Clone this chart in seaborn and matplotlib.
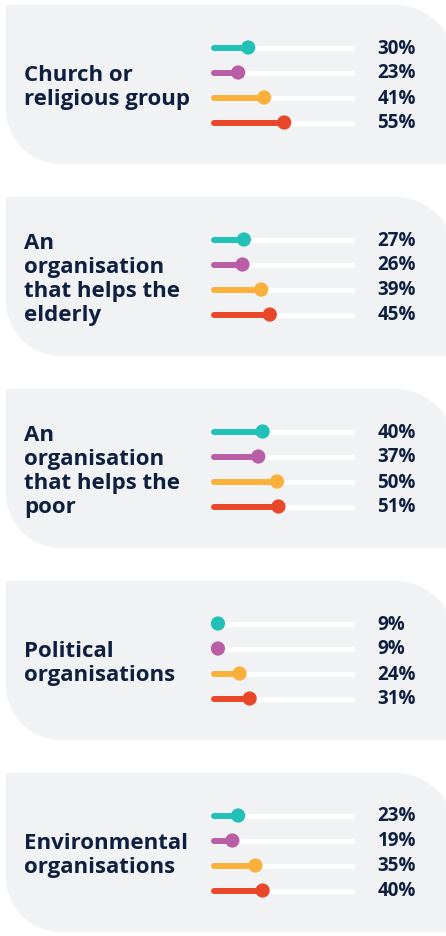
import numpy as np
import pandas as pd
import matplotlib
matplotlib.use("Agg")
import matplotlib.pyplot as plt
from matplotlib.path import Path
from matplotlib.patches import PathPatch
import seaborn as sns

# ---------------- data ----------------
categories = [
    "Church or\nreligious group",
    "An\norganisation\nthat helps the\nelderly",
    "An\norganisation\nthat helps the\npoor",
    "Political\norganisations",
    "Environmental\norganisations",
]
series = ["s1", "s2", "s3", "s4"]
values_church = [30, 23, 41, 55]
values_elderly = [27, 26, 39, 45]
values_poor = [40, 37, 50, 51]
values_political = [9, 9, 24, 31]
values_environment = [23, 19, 35, 40]
all_values = [values_church, values_elderly, values_poor, values_political, values_environment]

# ---------------- style ----------------
colors = ["#22c1b8", "#b95ea6", "#fbb03b", "#e9472a"]
panel_bg = "#f1f2f4"
text_color = "#0e1f3f"
W, H = 446, 937
sns.set_theme(style="white")
plt.rcParams["font.family"] = ["Open Sans", "DejaVu Sans"]

fig = plt.figure(figsize=(W / 100, H / 100), dpi=100)
fig.patch.set_facecolor("white")

# background axes in pixel coordinates for panels
bg = fig.add_axes([0, 0, 1, 1])
bg.set_xlim(0, W)
bg.set_ylim(H, 0)
bg.axis("off")

def panel_path(x0, y0, x1, y1, r_tr, r_bl):
    k = 0.5523
    verts = [
        (x0, y0),
        (x1 - r_tr, y0),
        (x1 - r_tr + k * r_tr, y0), (x1, y0 + r_tr - k * r_tr), (x1, y0 + r_tr),
        (x1, y1),
        (x0 + r_bl, y1),
        (x0 + r_bl - k * r_bl, y1), (x0, y1 - r_bl + k * r_bl), (x0, y1 - r_bl),
        (x0, y0),
    ]
    codes = [Path.MOVETO, Path.LINETO,
             Path.CURVE4, Path.CURVE4, Path.CURVE4,
             Path.LINETO, Path.LINETO,
             Path.CURVE4, Path.CURVE4, Path.CURVE4,
             Path.CLOSEPOLY]
    return Path(verts, codes)

panel_top0 = 6
panel_step = 192
panel_h = 159

# value -> pixel mapping: x = X0 + SCALE * v
X0 = 205.0
SCALE = 1.44
track_lo, track_hi = 6, 102

for i, (cat, vals) in enumerate(zip(categories, all_values)):
    top = panel_top0 + panel_step * i
    bot = top + panel_h
    bg.add_patch(PathPatch(panel_path(6, top, 455, bot, 60, 55),
                           facecolor=panel_bg, edgecolor="none"))
    # label
    fig.text(24 / W, 1 - (top + panel_h / 2 + 2) / H, cat, ha="left", va="center",
             fontsize=16, fontweight="bold", color=text_color, linespacing=1.17)

    # data axes: x 0..100 -> pixels X0 .. X0+100*SCALE ; rows 25 px apart
    ax_top = top + 30
    ax = fig.add_axes([X0 / W, 1 - (ax_top + 100) / H, 100 * SCALE / W, 100 / H])
    ax.set_xlim(0, 100)
    ax.set_ylim(3.5, -0.5)
    ax.axis("off")
    ax.patch.set_alpha(0)

    df = pd.DataFrame({"series": series, "value": vals, "row": np.arange(4)})
    tr = ax.hlines(df["row"], track_lo, track_hi, colors="white", linewidth=3.8, zorder=1)
    tr.set_capstyle("round")
    tr.set_clip_on(False)
    ln = ax.hlines(df["row"], track_lo, df["value"], colors=colors, linewidth=4.3, zorder=2)
    ln.set_capstyle("round")
    ln.set_clip_on(False)
    sns.scatterplot(data=df, x="value", y="row", hue="series", palette=colors,
                    s=105, linewidth=0, legend=False, ax=ax, zorder=3, clip_on=False)
    ax.set_xlabel("")
    ax.set_ylabel("")
    for r, v in enumerate(vals):
        ax.annotate(f"{v}%", xy=(1, r), xycoords=("axes fraction", "data"),
                    xytext=(20.5, 0), textcoords="offset points",
                    ha="left", va="center", fontsize=13.5, fontweight="bold",
                    color=text_color, annotation_clip=False)

fig.savefig("out.png", dpi=100, facecolor="white")
